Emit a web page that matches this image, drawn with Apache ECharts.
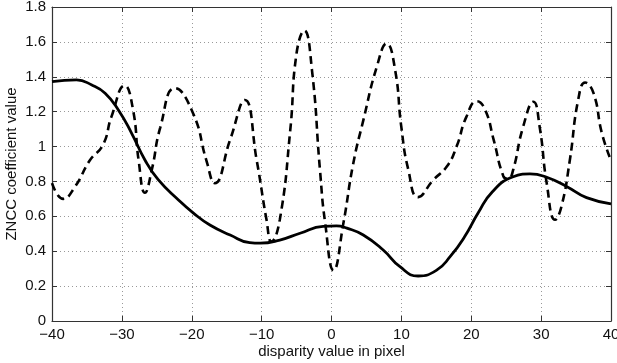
<!DOCTYPE html>
<html>
<head>
<meta charset="utf-8">
<style>
  html, body {margin: 0; padding: 0; background: #fff;}
  #main {width: 617px; height: 363px;}
</style>
<script src="https://cdn.jsdelivr.net/npm/echarts@6/dist/echarts.min.js"></script>
</head>
<body>
<div id="main"></div>
<script>
// dashed curve (ZNCC, raw)
const dashX = [-40, -38.4, -36.7, -34.6, -32.7, -31.5, -29.6, -28.4, -27.6, -26.7, -25.7, -24.5, -22.4, -19.8, -17.9, -16.7, -14.5, -12.4, -10.7, -9.3, -8.6, -7.4, -5.9, -5.0, -3.9, -2.8, -1.65, -0.9, 0.3, 1.7, 3.1, 4.55, 6.5, 7.9, 9.1, 10.0, 11.0, 12.4, 14.6, 16.5, 17.9, 19.3, 20.8, 22.0, 23.2, 24.6, 25.3, 26.0, 27.4, 28.9, 29.8, 30.8, 32.0, 32.9, 34.1, 35.3, 36.3, 37.5, 38.7, 40];
const dashY = [0.79, 0.70, 0.77, 0.92, 1.01, 1.17, 1.35, 1.21, 0.92, 0.735, 0.87, 1.11, 1.335, 1.19, 0.92, 0.79, 1.04, 1.267, 0.92, 0.58, 0.455, 0.58, 1.095, 1.535, 1.665, 1.44, 0.866, 0.56, 0.29, 0.56, 0.90, 1.15, 1.46, 1.59, 1.44, 1.11, 0.866, 0.71, 0.81, 0.885, 1.0, 1.17, 1.26, 1.21, 1.04, 0.83, 0.815, 0.866, 1.11, 1.257, 1.11, 0.79, 0.58, 0.655, 0.92, 1.267, 1.367, 1.306, 1.076, 0.92];

// solid curve (smooth)
const solidX = [-40, -36.5, -34.3, -32.4, -30.5, -28.6, -26.7, -24.8, -21.9, -19.8, -17.4, -14.5, -11.7, -10.2, -7.4, -4.5, -1.2, 0.7, 2.2, 4.55, 7.4, 9.8, 12.4, 15.0, 17.0, 19.0, 21.0, 23.0, 26.0, 28.4, 30.8, 33.7, 36.5, 40];
const solidY = [1.372, 1.382, 1.353, 1.306, 1.21, 1.076, 0.923, 0.81, 0.694, 0.62, 0.55, 0.493, 0.449, 0.446, 0.464, 0.503, 0.543, 0.545, 0.532, 0.493, 0.407, 0.311, 0.258, 0.29, 0.37, 0.48, 0.62, 0.74, 0.827, 0.843, 0.824, 0.77, 0.707, 0.672];

const font = 'Liberation Sans, Arial, Helvetica, sans-serif';
const pair = (xs, ys) => xs.map((x, i) => [x, ys[i]]);

const chart = echarts.init(document.getElementById('main'));

const tickIn = {show: true, inside: true, length: 5, lineStyle: {color: '#333', width: 1}};
const axLine = {show: true, onZero: false, lineStyle: {color: '#333', width: 1.2}};
const grid = {show: true, lineStyle: {color: '#999', type: [1, 3], width: 1}};

chart.setOption({
  animation: false,
  grid: {left: 52, right: 6, top: 7, bottom: 42, containLabel: false, outerBoundsMode: 'none'},
  xAxis: [
    {
      type: 'value', min: -40, max: 40, interval: 10,
      name: 'disparity value in pixel', nameLocation: 'middle', nameGap: 23,
      nameMoveOverlap: false,
      nameTextStyle: {fontFamily: font, fontSize: 15, color: '#111'},
      axisLine: axLine, axisTick: tickIn, splitLine: grid,
      axisLabel: {
        fontFamily: font, fontSize: 15, color: '#111', margin: 6,
        formatter: v => String(v).replace('-', '\u2212')
      }
    },
    {
      type: 'value', position: 'top', min: -40, max: 40, interval: 10,
      axisLine: axLine, axisTick: tickIn, axisLabel: {show: false}, splitLine: {show: false}
    }
  ],
  yAxis: [
    {
      type: 'value', min: 0, max: 1.8, interval: 0.2,
      name: 'ZNCC coefficient value', nameLocation: 'middle', nameGap: 33,
      nameMoveOverlap: false,
      nameTextStyle: {fontFamily: font, fontSize: 15, color: '#111'},
      axisLine: axLine, axisTick: tickIn, splitLine: grid,
      axisLabel: {
        fontFamily: font, fontSize: 15, color: '#111', margin: 6,
        formatter: v => String(+v.toFixed(1))
      }
    },
    {
      type: 'value', position: 'right', min: 0, max: 1.8, interval: 0.2,
      axisLine: axLine, axisTick: tickIn, axisLabel: {show: false}, splitLine: {show: false}
    }
  ],
  series: [
    {
      type: 'line', data: pair(dashX, dashY), smooth: 0.5, symbol: 'none',
      lineStyle: {color: '#000', width: 2.6, type: [8, 5]}
    },
    {
      type: 'line', data: pair(solidX, solidY), smooth: 0.5, symbol: 'none',
      lineStyle: {color: '#000', width: 2.8}
    }
  ]
});
</script>
</body>
</html>
